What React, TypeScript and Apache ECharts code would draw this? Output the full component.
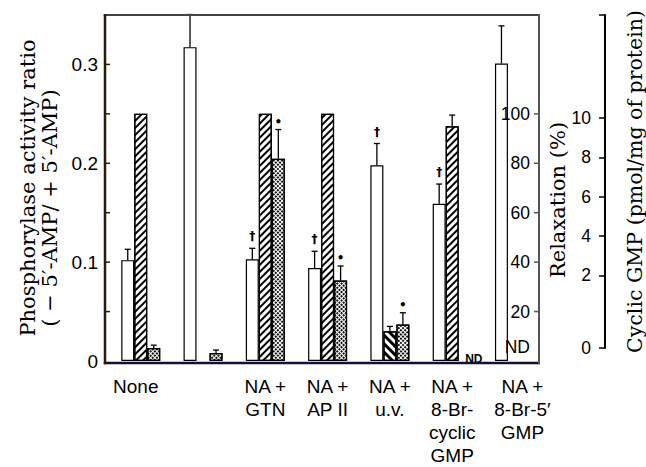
import React, { useEffect, useRef } from 'react';
import * as echarts from 'echarts';

// ---------- data ----------
const categories = [
  'None',
  '',
  'NA +\nGTN',
  'NA +\nAP II',
  'NA +\nu.v.',
  'NA +\n8-Br-\ncyclic\nGMP',
  'NA +\n8-Br-5′\nGMP',
];

const phosRatio = [0.102, 0.3175, 0.103, 0.094, 0.198, 0.159, 0.301];
const phosRatioErr = [0.011, 0.033, 0.011, 0.017, 0.022, 0.02, 0.038];
const phosMarks = ['', '', '†', '†', '†', '†', ''];

const relaxation: (number | null)[] = [100, null, 100, 100, 12, 95, null];
const relaxationErr: (number | null)[] = [0, null, 0, 0, 2, 4.5, null];

const cGmp: (number | null)[] = [0.53, 0.33, 8.3, 3.3, 1.5, null, null];
const cGmpErr: (number | null)[] = [0.12, 0.12, 1.2, 0.6, 0.48, null, null];
const cGmpMarks = ['', '', '•', '•', '•', 'ND', ''];

const ratioTicks = [0.05, 0.1, 0.15, 0.2, 0.25, 0.3];
const ratioLabels = [0, 0.1, 0.2, 0.3];
const relaxTicks = [20, 40, 60, 80, 100];
const relaxLabels = [0, 20, 40, 60, 80, 100];
const gmpAxisMin = -1.7;
const gmpAxisMax = 15.25;
const gmpLabels = [gmpAxisMin, 2, 4, 6, 8, 10];
const gmpTicks = [gmpAxisMin, 2, 4, 6, 8, 10, gmpAxisMax];

const SANS = "'Liberation Sans', Arial, sans-serif";
const SERIF = "'DejaVu Serif', serif";
const BAR_W = 13;

const FRAME = { left: 105, top: 15, width: 434, height: 348 };
const BARS_LEFT = 109.6;
const BARS_WIDTH = 436;

const hatch = { symbol: 'rect', symbolSize: 1, dashArrayX: [1, 0], dashArrayY: [2, 3], rotation: -Math.PI / 4, color: '#000' };
const hatchRev = { symbol: 'rect', symbolSize: 1, dashArrayX: [1, 0], dashArrayY: [2.5, 2.5], rotation: Math.PI / 4, color: '#000' };
const stipple = { symbol: 'rect', symbolSize: 1, dashArrayX: [1.5, 1], dashArrayY: [1.5, 1], rotation: Math.PI / 4, color: '#111' };

function errSeries(
  name: string,
  values: (number | null)[],
  errs: (number | null)[],
  marks: string[],
  yAxisIndex: number,
  offset: number
) {
  const data: any[] = [];
  values.forEach((v, i) => {
    if (v != null) data.push([i, v, v + (errs[i] || 0), marks[i] || '']);
    else if (marks[i]) data.push([i, 0, 0, marks[i]]);
  });
  return {
    name,
    type: 'custom',
    xAxisIndex: 0,
    yAxisIndex,
    clip: false,
    z: 5,
    data,
    renderItem: (params: any, api: any) => {
      const i = api.value(0);
      const v = api.value(1);
      const e = api.value(2);
      const mark = data[params.dataIndex][3];
      const base = api.coord([i, v]);
      const top = api.coord([i, e]);
      const x = base[0] + offset;
      const children: any[] = [];
      const st = { stroke: '#000', lineWidth: 1.3 };
      if (e > v) {
        children.push({ type: 'line', shape: { x1: x, y1: base[1], x2: x, y2: top[1] }, style: st });
        children.push({ type: 'line', shape: { x1: x - 3, y1: top[1], x2: x + 3, y2: top[1] }, style: st });
      }
      if (mark === 'ND') {
        children.push({ type: 'text', x: x, y: base[1] - 2, style: { text: 'ND', fill: '#000', font: `bold 12px ${SANS}`, align: 'left', verticalAlign: 'middle' } });
      } else if (mark) {
        const dy = mark === '†' ? 12 : 8;
        children.push({ type: 'text', x, y: top[1] - dy, style: { text: mark, fill: '#000', font: `bold 12px 'DejaVu Sans', sans-serif`, align: 'center', verticalAlign: 'middle' } });
      }
      return { type: 'group', children };
    },
  };
}

function tickSeries(yAxisIndex: number, ticks: number[], side: 'left' | 'right', color: string) {
  return {
    name: 'ticks-' + side,
    type: 'custom',
    xAxisIndex: 0,
    yAxisIndex,
    clip: false,
    silent: true,
    z: 10,
    data: ticks.map((t) => [0, t]),
    renderItem: (params: any, api: any) => {
      const y = api.coord([0, api.value(1)])[1];
      const x0 = side === 'left' ? FRAME.left : FRAME.left + FRAME.width - 5;
      return { type: 'rect', shape: { x: x0, y: y - 0.75, width: 5, height: 1.5 }, style: { fill: color } };
    },
  };
}

export default function App() {
  const ref = useRef<HTMLDivElement>(null);
  useEffect(() => {
    document.body.style.margin = '0';
    const chart = echarts.init(ref.current!, null, { renderer: 'svg' });

    const catData = categories.map((c, i) => {
      if (i === 0) return { value: c, textStyle: { padding: [0, 10, 0, 0] } };
      if (i === categories.length - 1) return { value: c, textStyle: { padding: [0, 0, 0, 16] } };
      return c;
    });

    const leftOffset = BARS_LEFT - FRAME.left;
    const rightOffset = FRAME.left + FRAME.width - (BARS_LEFT + BARS_WIDTH);
    const L = FRAME.left;
    const T = FRAME.top;
    const R = FRAME.left + FRAME.width;
    const B = FRAME.top + FRAME.height;

    const option: any = {
      animation: false,
      backgroundColor: '#fff',
      grid: [
        { left: BARS_LEFT, top: FRAME.top, width: BARS_WIDTH, height: FRAME.height },
        { left: 599, top: 15, width: 10, height: 333 },
      ],
      graphic: [
        { type: 'line', z: 100, silent: true, shape: { x1: L - 1.25, y1: T, x2: R + 1, y2: T }, style: { stroke: '#444444', lineWidth: 2 } },
        { type: 'line', z: 100, silent: true, shape: { x1: L - 1.25, y1: B, x2: R + 1, y2: B }, style: { stroke: '#10103a', lineWidth: 2.6 } },
        { type: 'line', z: 100, silent: true, shape: { x1: L, y1: T - 1, x2: L, y2: B + 1.3 }, style: { stroke: '#2a1a0a', lineWidth: 2.5 } },
        { type: 'line', z: 100, silent: true, shape: { x1: R, y1: T - 1, x2: R, y2: B + 1.3 }, style: { stroke: '#555555', lineWidth: 2 } },
      ],
      xAxis: [
        {
          type: 'category',
          gridIndex: 0,
          data: catData,
          axisLine: { show: false },
          axisTick: { show: false },
          axisLabel: { interval: 0, color: '#000', fontFamily: SANS, fontSize: 19, lineHeight: 23, margin: 14 },
        },
        { type: 'value', gridIndex: 1, show: false, min: 0, max: 1 },
      ],
      yAxis: [
        {
          type: 'value',
          gridIndex: 0,
          position: 'left',
          offset: leftOffset,
          min: 0,
          max: 0.35,
          z: 20,
          splitLine: { show: false },
          axisLine: { show: false },
          axisTick: { show: false },
          axisLabel: {
            customValues: ratioLabels,
            color: '#000',
            fontFamily: SANS,
            fontSize: 19,
            margin: 7,
            formatter: (v: number) => (v === 0 ? '0' : v.toFixed(1)),
          },
          name: '{a|Phosphorylase activity ratio}\n{b|( − 5′-AMP/ + 5′-AMP)}',
          nameLocation: 'middle',
          nameRotate: 90,
          nameGap: 43,
          nameTextStyle: {
            fontFamily: SERIF,
            fontSize: 21,
            lineHeight: 22,
            color: '#000',
            rich: {
              a: { fontFamily: SERIF, fontSize: 21, lineHeight: 22, color: '#000' },
              b: { fontFamily: SERIF, fontSize: 21, lineHeight: 22, color: '#000', padding: [0, 40, 0, 0] },
            },
          },
        },
        {
          type: 'value',
          gridIndex: 0,
          position: 'right',
          offset: rightOffset,
          min: 0,
          max: 140,
          z: 20,
          splitLine: { show: false },
          axisLine: { show: false },
          axisTick: { show: false },
          axisLabel: {
            inside: true,
            customValues: relaxLabels,
            color: '#000',
            fontFamily: SANS,
            fontSize: 17.5,
            margin: 9,
            formatter: (v: number) => (v === 0 ? '{nd|ND}' : String(v)),
            rich: { nd: { fontFamily: SANS, fontSize: 17.5, color: '#000', padding: [0, 0, 28, 0] } },
          },
          name: 'Relaxation (%)',
          nameLocation: 'middle',
          nameRotate: 90,
          nameGap: 6,
          nameTextStyle: { fontFamily: SERIF, fontSize: 21, color: '#000', padding: [0, 24, 0, 0] },
        },
        { type: 'value', gridIndex: 0, show: false, min: 0, max: 14.2 },
        {
          type: 'value',
          gridIndex: 1,
          position: 'right',
          min: gmpAxisMin,
          max: gmpAxisMax,
          splitLine: { show: false },
          axisLine: { show: true, onZero: false, lineStyle: { color: '#000', width: 2 } },
          axisTick: { show: true, inside: true, length: 6, customValues: gmpTicks, lineStyle: { color: '#000', width: 1.5 } },
          axisLabel: {
            inside: true,
            customValues: gmpLabels,
            color: '#000',
            fontFamily: SANS,
            fontSize: 17.5,
            margin: 14,
            formatter: (v: number) => (v < 0 ? '0' : String(v)),
          },
          name: 'Cyclic GMP (pmol/mg of protein)',
          nameLocation: 'middle',
          nameRotate: 90,
          nameGap: 19,
          nameTextStyle: { fontFamily: SERIF, fontSize: 20.5, color: '#000' },
        },
      ],
      series: [
        {
          name: 'Phosphorylase activity ratio',
          type: 'bar',
          xAxisIndex: 0,
          yAxisIndex: 0,
          barWidth: BAR_W,
          barGap: '0%',
          itemStyle: { color: '#fff', borderColor: '#000', borderWidth: 1.2 },
          data: phosRatio,
        },
        {
          name: 'Relaxation',
          type: 'bar',
          xAxisIndex: 0,
          yAxisIndex: 1,
          barWidth: BAR_W,
          barGap: '0%',
          itemStyle: { color: '#fff', borderColor: '#000', borderWidth: 1.2, decal: hatch },
          data: relaxation.map((v, i) => (v == null ? '-' : i === 4 ? { value: v, itemStyle: { decal: hatchRev } } : v)),
        },
        {
          name: 'Cyclic GMP',
          type: 'bar',
          xAxisIndex: 0,
          yAxisIndex: 2,
          barWidth: BAR_W,
          barGap: '0%',
          itemStyle: { color: '#fff', borderColor: '#000', borderWidth: 1.2, decal: stipple },
          data: cGmp.map((v) => (v == null ? '-' : v)),
        },
        errSeries('phosErr', phosRatio, phosRatioErr, phosMarks, 0, -BAR_W),
        errSeries('relaxErr', relaxation, relaxationErr, relaxation.map(() => ''), 1, 0),
        errSeries('gmpErr', cGmp, cGmpErr, cGmpMarks, 2, BAR_W),
        tickSeries(0, ratioTicks, 'left', '#2a1a0a'),
        tickSeries(1, relaxTicks, 'right', '#555555'),
      ],
    };
    chart.setOption(option);
    return () => chart.dispose();
  }, []);
  return <div ref={ref} style={{ position: 'fixed', left: 0, top: 0, width: 646, height: 467, background: '#fff' }} />;
}
